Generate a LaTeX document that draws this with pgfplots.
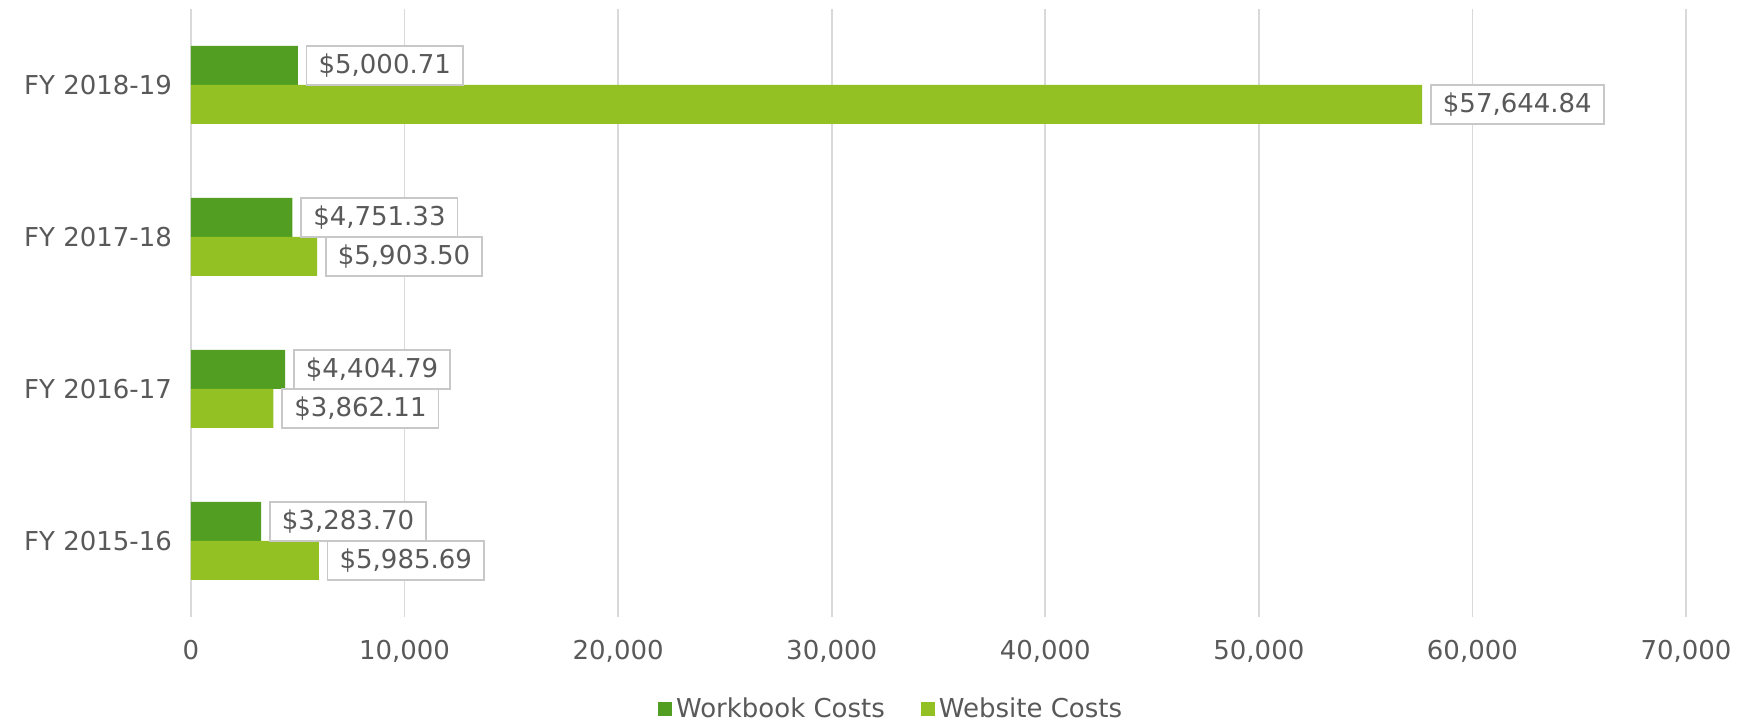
\documentclass[border=0pt]{standalone}
\usepackage{fontspec}
\setmainfont{DejaVu Sans}
\usepackage{pgfplots}
\usepackage{pgfplotstable}
\pgfplotsset{compat=1.18}
\definecolor{wbk}{RGB}{81,158,34}
\definecolor{web}{RGB}{147,193,35}
\definecolor{txt}{RGB}{89,89,89}
\definecolor{grd}{RGB}{217,217,217}
\definecolor{bxc}{RGB}{200,200,200}
\pgfplotstableread{
y val lab
0 3283.70 \$3,283.70
1 4404.79 \$4,404.79
2 4751.33 \$4,751.33
3 5000.71 \$5,000.71
}\workbook
\pgfplotstableread{
y val lab
0 5985.69 \$5,985.69
1 3862.11 \$3,862.11
2 5903.50 \$5,903.50
3 57644.84 \$57,644.84
}\website
\begin{document}
\begin{tikzpicture}
\begin{axis}[
  name=ax,
  scale only axis,
  width=747.5pt, height=304pt,
  xbar, bar width=0.2566,
  xmin=0, xmax=70000,
  ymin=-0.5, ymax=3.5,
  xtick={0,10000,20000,30000,40000,50000,60000,70000},
  ytick={0,1,2,3},
  yticklabels={FY 2015-16,FY 2016-17,FY 2017-18,FY 2018-19},
  scaled x ticks=false,
  /pgf/number format/.cd, 1000 sep={,}, assume math mode=true, /pgfplots/.cd,
  axis line style={draw=none},
  major tick length=0pt,
  xmajorgrids, grid style={grd, line width=0.8pt},
  ticklabel style={font=\fontsize{13}{15}\selectfont, text=txt},
  xticklabel style={yshift=-8pt},
  yticklabel style={xshift=-6pt},
  point meta=explicit symbolic,
  nodes near coords,
  nodes near coords style={anchor=west, xshift=4pt, draw=bxc, fill=white,
    text=txt, font=\fontsize{13}{15}\selectfont, minimum height=19.5pt,
    inner xsep=6pt, line width=0.8pt},
  legend style={at={(0.469,-0.151)}, anchor=center, draw=none, fill=none,
    legend columns=2, font=\fontsize{13}{15}\selectfont, text=txt,
    /tikz/every even column/.append style={column sep=16pt}},
  legend image code/.code={\fill[#1] (0pt,-3.5pt) rectangle (7pt,3.5pt);},
]
\addplot[fill=wbk, draw=none, bar shift=0.1283] table[x=val, y=y, meta=lab] {\workbook};
\addplot[fill=web, draw=none, bar shift=-0.1283] table[x=val, y=y, meta=lab] {\website};
\legend{Workbook Costs, Website Costs}
\end{axis}
\pgfresetboundingbox
\path[use as bounding box] ([xshift=-95.5pt,yshift=-54.5pt]ax.south west) rectangle ([xshift=28.5pt,yshift=4.5pt]ax.north east);
\end{tikzpicture}
\end{document}
